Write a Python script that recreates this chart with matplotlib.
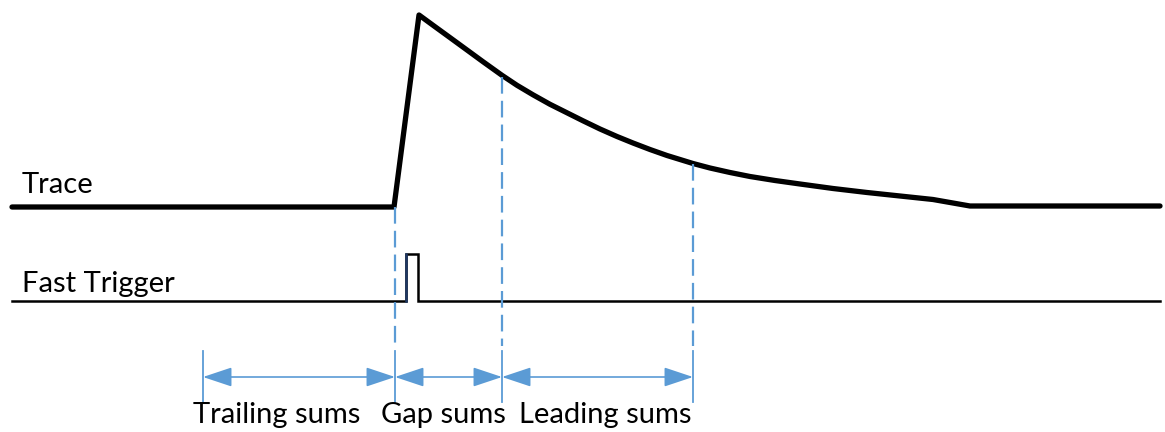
import matplotlib
matplotlib.use("Agg")
import matplotlib.pyplot as plt

# Trace (time, level) in drawing units (y grows downward)
trace_t = [12, 394, 419, 435, 450, 467, 483, 502, 517, 533, 550, 567, 583, 600, 617, 633,
           650, 667, 680, 693, 710, 730, 750, 775, 800, 833, 867, 900, 933, 970, 1160]
trace_y = [207, 207, 15, 26.7, 37.6, 50, 61.7, 75.3, 85.3, 94.8, 104.3, 112.8, 120.8, 129, 136.5, 143,
           149.5, 155.5, 159.5, 163.5, 168, 172.5, 176.5, 180.5, 184, 188.5, 192.5, 196, 199.5, 206, 206]

# Fast trigger
trig_t = [12, 406, 406, 418, 418, 1160]
trig_y = [301, 301, 254, 254, 301, 301]

# Marker times (dashed verticals) and their start on the trace
marker_t = [395, 502, 693]
marker_top = [207, 77, 164]
window_start = 203

labels = ["Trailing sums", "Gap sums", "Leading sums"]
label_x = [193, 381, 519]
channel_labels = ["Trace", "Fast Trigger"]
channel_label_y = [193, 292]

BLUE = "#5B9BD5"
plt.rcParams['font.family'] = ['Lato', 'DejaVu Sans']

fig = plt.figure(figsize=(11.65, 4.32), dpi=100)
ax = fig.add_axes([0, 0, 1, 1])
ax.set_xlim(0, 1165)
ax.set_ylim(432, 0)
ax.axis('off')

ax.plot(trace_t, trace_y, color='black', lw=3.8, solid_capstyle='round', solid_joinstyle='round')
ax.plot(trig_t, trig_y, color='black', lw=1.8, solid_joinstyle='miter')
ax.plot(trig_t[1:3], trig_y[1:3], color='#1F3864', lw=1.8)

for t, top in zip(marker_t, marker_top):
    ax.plot([t, t], [top, 346], color=BLUE, lw=1.6, dashes=(7.5, 3.2))

edges = [window_start] + marker_t
for t in edges:
    ax.plot([t, t], [351, 402], color=BLUE, lw=1.3)

for a, b in zip(edges[:-1], edges[1:]):
    ax.annotate('', xy=(b, 377), xytext=(a, 377),
                arrowprops=dict(arrowstyle='<|-|>,head_length=1.5,head_width=0.5',
                                color=BLUE, lw=1.2, shrinkA=0, shrinkB=0,
                                mutation_scale=12))

for lab, x in zip(labels, label_x):
    ax.text(x, 423, lab, fontsize=21, ha='left', va='baseline', color='black')
for lab, y in zip(channel_labels, channel_label_y):
    ax.text(22, y, lab, fontsize=21, ha='left', va='baseline', color='black')

fig.savefig('out.png', dpi=100)
